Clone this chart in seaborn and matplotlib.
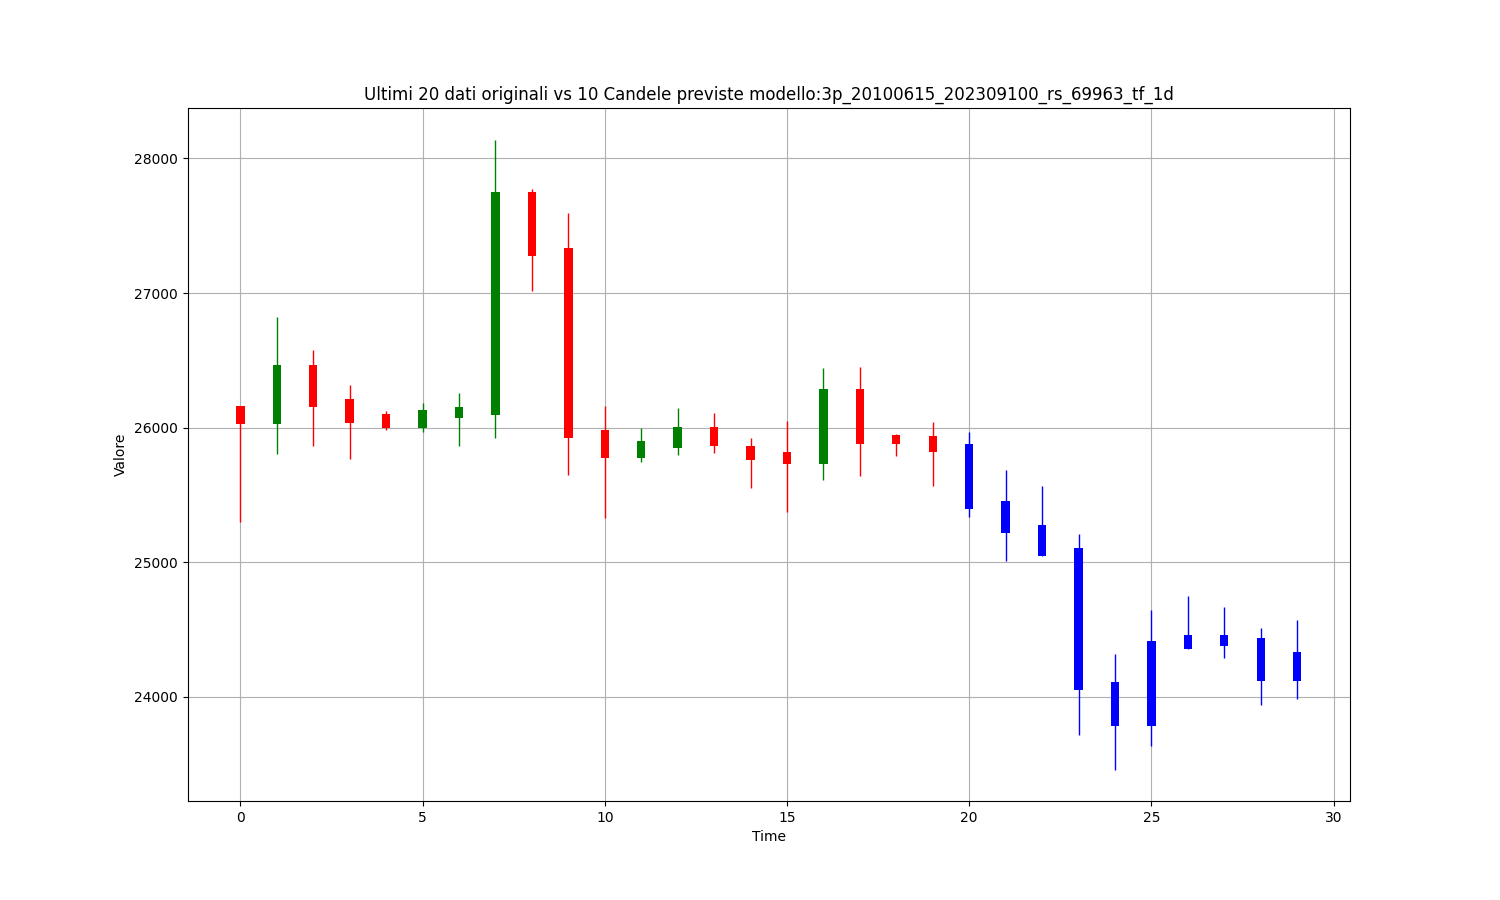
import numpy as np
import pandas as pd
import matplotlib
matplotlib.use("Agg")
import matplotlib.pyplot as plt
import seaborn as sns

# ---- data ----
time = list(range(30))
opens = [26160, 26026, 26464, 26211, 26102, 25995, 26073, 26095, 27750, 27332,
         25980, 25776, 25846, 26009, 25861, 25818, 25731, 26288, 25943, 25935,
         25876, 25457, 25276, 25105, 24110, 23787, 24460, 24460, 24438, 24334]
closes = [26026, 26464, 26154, 26037, 25995, 26130, 26154, 27750, 27275, 25921,
          25776, 25902, 26009, 25865, 25761, 25731, 26288, 25880, 25876, 25818,
          25397, 25220, 25049, 24054, 23787, 24416, 24358, 24381, 24121, 24121]
highs = [26160, 26820, 26575, 26315, 26125, 26182, 26256, 28141, 27770, 27592,
         26162, 25995, 26143, 26113, 25921, 26047, 26441, 26451, 25950, 26039,
         25966, 25687, 25568, 25212, 24319, 24648, 24750, 24668, 24512, 24571]
lows = [25299, 25803, 25861, 25768, 25985, 25970, 25861, 25921, 27015, 25650,
        25328, 25746, 25798, 25813, 25553, 25377, 25613, 25642, 25791, 25568,
        25338, 25012, 25049, 23720, 23461, 23639, 24358, 24291, 23940, 23987]
n_original = 20

title = "Ultimi 20 dati originali vs 10 Candele previste modello:3p_20100615_202309100_rs_69963_tf_1d"

df = pd.DataFrame({"t": time, "open": opens, "close": closes, "high": highs, "low": lows})
df["bottom"] = df[["open", "close"]].min(axis=1)
df["height"] = (df["close"] - df["open"]).abs()


def kind(row):
    if row["t"] >= n_original:
        return "pred"
    return "up" if row["close"] >= row["open"] else "down"


df["kind"] = df.apply(kind, axis=1)
colors = {"up": "green", "down": "red", "pred": "blue"}

fig, ax = plt.subplots(figsize=(15, 9), dpi=100)

# wicks
for k, sub in df.groupby("kind"):
    ax.vlines(sub["t"], sub["low"], sub["high"], color=colors[k], linewidth=1, zorder=2)

# bodies
for k, sub in df.groupby("kind"):
    sub = sub.sort_values("t")
    sns.barplot(data=sub, x="t", y="height", native_scale=True, errorbar=None,
                width=0.23, color=colors[k], saturation=1, bottom=sub["bottom"].values,
                linewidth=0, ax=ax, zorder=3)

span = max(time) - min(time)
ax.set_xlim(min(time) - 0.05 * span, max(time) + 0.05 * span)
ymin, ymax = min(lows), max(highs)
yspan = ymax - ymin
ax.set_ylim(ymin - 0.05 * yspan, ymax + 0.05 * yspan)
ax.set_xticks([0, 5, 10, 15, 20, 25, 30])
ax.set_xticklabels(["0", "5", "10", "15", "20", "25", "30"])
ax.grid(True, color="#b0b0b0", linewidth=0.8)
ax.set_axisbelow(True)
ax.set_title(title)
ax.set_xlabel("Time")
ax.set_ylabel("Valore")

fig.subplots_adjust(left=0.125, right=0.9, top=0.88, bottom=0.11)
fig.savefig("out.png", dpi=100)
